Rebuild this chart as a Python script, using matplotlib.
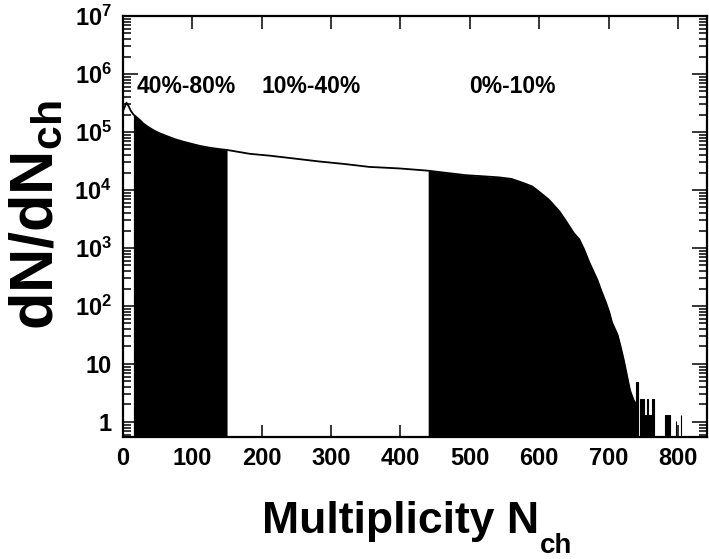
import matplotlib.pyplot as plt
import numpy as np
from matplotlib.ticker import FixedLocator, LogLocator, FuncFormatter, NullFormatter

plt.rcParams['font.family'] = ['Liberation Sans', 'DejaVu Sans']
plt.rcParams['font.weight'] = 'bold'
plt.rcParams['mathtext.fontset'] = 'custom'
plt.rcParams['mathtext.rm'] = 'Liberation Sans:bold'
plt.rcParams['mathtext.bf'] = 'Liberation Sans:bold'
plt.rcParams['mathtext.it'] = 'Liberation Sans:bold'

# charged multiplicity distribution, sampled along the curve
nch = [0, 3, 5, 8, 11, 15, 20, 25, 29, 35, 44, 52, 63, 75, 87, 100, 111, 125, 140,
       150, 183, 212, 250, 283, 320, 355, 399, 440, 494, 520, 542, 560, 571, 580,
       590, 600, 614, 629, 638, 650, 658, 665, 672, 684, 690, 696, 701, 705, 713,
       717, 722, 727, 731, 736, 740]
dndn = [2.3e5, 2.8e5, 3.2e5, 2.8e5, 2.35e5, 2.0e5, 1.78e5, 1.58e5, 1.41e5, 1.25e5,
        1.07e5, 9.6e4, 8.5e4, 7.5e4, 6.8e4, 6.2e4, 5.75e4, 5.35e4, 5.05e4, 4.9e4,
        4.2e4, 3.9e4, 3.45e4, 3.1e4, 2.8e4, 2.5e4, 2.35e4, 2.15e4, 1.8e4, 1.72e4,
        1.65e4, 1.55e4, 1.4e4, 1.28e4, 1.15e4, 9.3e3, 6.8e3, 4.3e3, 3.0e3, 1.8e3,
        1.4e3, 930, 575, 280, 178, 117, 79, 52, 32, 21, 11.7, 6.0, 3.5, 2.4, 2.0]

# sparse high-multiplicity tail
tail_lo = [740, 746, 748, 752, 755, 757, 763, 782, 786, 797, 804]
tail_hi = [743, 747, 751, 755, 757, 763, 766, 785, 789, 798, 805]
tail_val = [4.7, 2.4, 2.4, 1.2, 2.4, 1.2, 2.4, 1.2, 1.2, 0.95, 1.2]

# centrality classes: (lower edge, upper edge, shaded)
classes = [(15, 150, True), (150, 440, False), (440, 740, True)]
class_labels = ['40%-80%', '10%-40%', '0%-10%']
label_x = [20, 200, 499]

fig = plt.figure(figsize=(7.09, 5.59), dpi=100)
ax = fig.add_axes([123 / 709, 1 - 437 / 559, (707 - 123) / 709, (437 - 16) / 559])
ax.set_yscale('log')

n = np.array(nch)
for lo, hi, shaded in classes:
    if shaded:
        ax.fill_between(n, dndn, 0.1, where=(n >= lo) & (n <= hi),
                        color='black', linewidth=0)

ax.plot(nch, dndn, color='black', lw=1.3)
ax.bar(tail_lo, tail_val, width=np.subtract(tail_hi, tail_lo), align='edge',
       bottom=0.1, color='black', edgecolor='black', linewidth=0.8)

for text, x in zip(class_labels, label_x):
    ax.text(x, 6e5, text, fontsize=16.5, fontweight='bold', va='center', ha='left')

ax.set_xlim(0, 842)
ax.set_ylim(0.55, 1e7)

ax.xaxis.set_major_locator(FixedLocator([0, 100, 200, 300, 400, 500, 600, 700, 800]))
ax.yaxis.set_major_locator(LogLocator(base=10, numticks=20))
ax.yaxis.set_minor_locator(LogLocator(base=10, subs=np.arange(2, 10), numticks=20))
ax.yaxis.set_minor_formatter(NullFormatter())


def log_label(v, pos):
    e = int(round(np.log10(v)))
    if e == 0:
        return '1'
    if e == 1:
        return '10'
    return r'$10^{%d}$' % e


ax.yaxis.set_major_formatter(FuncFormatter(log_label))

ax.tick_params(which='both', direction='in', top=True, right=True, width=1.1)
ax.tick_params(axis='x', which='major', length=9, pad=7, labelsize=17)
ax.tick_params(axis='y', which='major', length=11, pad=8, labelsize=17)
ax.tick_params(axis='y', which='minor', length=6)
for s in ax.spines.values():
    s.set_linewidth(1.6)

# axis titles with lowered subscripts
fig.text(262 / 709, 1 - 533 / 559, 'Multiplicity N', fontsize=32, fontweight='bold',
         ha='left', va='baseline')
fig.text(540 / 709, 1 - 553 / 559, 'ch', fontsize=20, fontweight='bold',
         ha='left', va='baseline')
fig.text(37 / 709, 1 - 215 / 559, r'$\mathbf{dN/dN_{ch}}$', fontsize=44,
         rotation=90, ha='center', va='center')

fig.savefig('out.png', dpi=100)
